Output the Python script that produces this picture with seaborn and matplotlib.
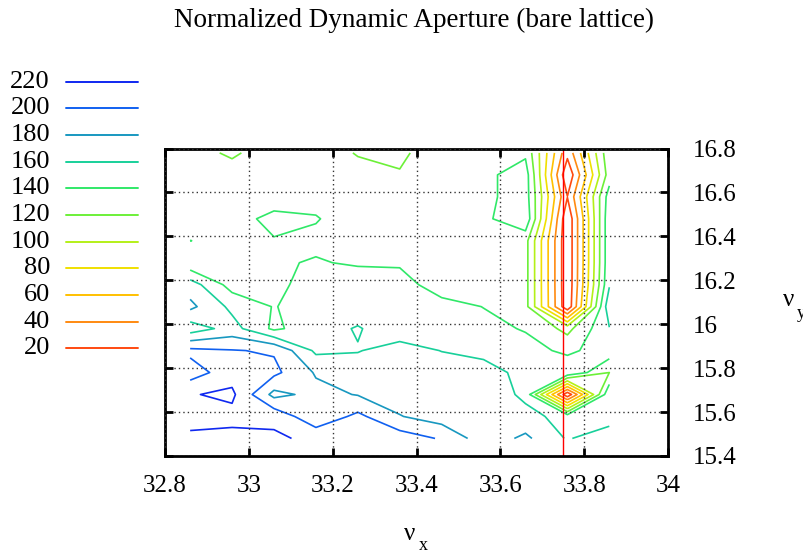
import numpy as np
import matplotlib
matplotlib.use("Agg")
import matplotlib.pyplot as plt
import seaborn as sns
from matplotlib.lines import Line2D

# ---------------- data ----------------
nu_x = [32.86, 32.96, 33.06, 33.16, 33.26, 33.36, 33.46, 33.56, 33.66, 33.76, 33.86]
nu_y = [15.48, 15.58, 15.68, 15.78, 15.88, 15.98, 16.08, 16.18, 16.28, 16.38,
        16.48, 16.58, 16.68, 16.78]

# normalized dynamic aperture, one list per nu_y row (bottom to top)
da_1548 = [222.8, 226, 223.6, 215, 214, 210.7, 198, 169, 184, 158, 175]
da_1558 = [215, 214, 214.6, 185, 205, 181, 170, 168, 167, 152, 148]
da_1568 = [218.7, 224, 174, 186, 179, 170, 168, 175, 155, 5, 157]
da_1578 = [190, 211.5, 205, 178, 170, 168, 170, 172, 151, 158, 120]
da_1588 = [205, 201, 198, 156, 159, 168, 159.5, 151.7, 148.6, 135, 152]
da_1598 = [149, 168, 136, 152, 161.5, 148.5, 150, 146.7, 138.2, 114, 159]
da_1608 = [185, 155, 139, 150, 150, 150, 148.5, 139.5, 127, 4, 175]
da_1618 = [170, 131.6, 134, 150, 150, 150, 127.8, 130, 127, 3, 158]
da_1628 = [125, 130, 138, 141.3, 138, 137, 130, 130, 127, 3, 155]
da_1638 = [140.3, 132, 138.9, 136.5, 132, 130, 128, 130, 127, 3, 155]
da_1648 = [130, 133, 145, 141, 132, 130, 130, 135.5, 155.8, 3, 155]
da_1658 = [130, 132, 131, 135, 130, 128, 130, 135, 150, 20.5, 150]
da_1668 = [131, 131, 133, 132, 130, 122.2, 128, 135, 150, 3, 130]
da_1678 = [129.5, 116, 134, 135, 118, 114, 138, 136, 136.3, 26, 135]

levels = [20, 40, 60, 80, 100, 120, 140, 160, 180, 200, 220]
level_colors = ["#ff4a10", "#ff8a10", "#ffc000", "#f0e000", "#b4f018", "#6cf038",
                "#30e868", "#18d09a", "#1898c0", "#1060f0", "#0f28f0"]

resonance_x = [33.75, 33.75]
resonance_y = [15.4, 16.8]

x_ticks = [32.8, 33.0, 33.2, 33.4, 33.6, 33.8, 34.0]
x_tick_labels = ["32.8", "33", "33.2", "33.4", "33.6", "33.8", "34"]
y_ticks = [15.4, 15.6, 15.8, 16.0, 16.2, 16.4, 16.6, 16.8]
y_tick_labels = ["15.4", "15.6", "15.8", "16", "16.2", "16.4", "16.6", "16.8"]

# ---------------- style ----------------
sns.set_theme(style="white")
plt.rcParams["font.family"] = ["Liberation Serif", "DejaVu Serif"]
plt.rcParams["text.color"] = "black"
FS = 18

W, H = 804, 552
fig = plt.figure(figsize=(W / 100, H / 100), dpi=100)
ax_l, ax_r, ax_t, ax_b = 165, 668, 148.5, 456
ax = fig.add_axes([ax_l / W, 1 - ax_b / H, (ax_r - ax_l) / W, (ax_b - ax_t) / H])

Z = np.array([da_1548, da_1558, da_1568, da_1578, da_1588, da_1598, da_1608,
              da_1618, da_1628, da_1638, da_1648, da_1658, da_1668, da_1678])

ax.contour(nu_x, nu_y, Z, levels=levels, colors=level_colors, linewidths=1.2)

sns.lineplot(x=resonance_x, y=resonance_y, estimator=None, sort=False,
             color="#ff0000", linewidth=1.0, ax=ax, legend=False)

ax.set_xlim(32.8, 34.0)
ax.set_ylim(15.4, 16.8)
ax.set_xticks(x_ticks)
ax.set_xticklabels(x_tick_labels)
ax.set_yticks(y_ticks)
ax.set_yticklabels(y_tick_labels)
ax.set_xlabel("")
ax.set_ylabel("")

ax.grid(True, color="#333333", linestyle=(0, (1.0, 2.2)), linewidth=1.0)
ax.set_axisbelow(False)
for s in ax.spines.values():
    s.set_visible(True)
    s.set_linewidth(2.0)
    s.set_color("black")

ax.tick_params(axis="both", direction="in", length=6, width=2.0, colors="black",
               top=True, bottom=True, left=True, right=True,
               labelleft=False, labelright=True, labelbottom=True, labeltop=False,
               labelsize=FS)
ax.tick_params(axis="x", pad=14)
ax.tick_params(axis="y", pad=18)
for lab in ax.get_yticklabels():
    lab.set_horizontalalignment("left")

# title and axis labels
fig.text(414 / W, 1 - 20 / H, "Normalized Dynamic Aperture (bare lattice)",
         ha="center", va="center", fontsize=19.5, color="black")
fig.text(410 / W, 1 - 534 / H, "ν", ha="center", va="center", fontsize=FS, color="black")
fig.text(423 / W, 1 - 545 / H, "x", ha="center", va="center", fontsize=13, color="black")
fig.text(789 / W, 1 - 300 / H, "ν", ha="center", va="center", fontsize=FS, color="black")
fig.text(801 / W, 1 - 313 / H, "y", ha="center", va="center", fontsize=13, color="black")

# contour key (levels listed high to low)
for i, (lev, col) in enumerate(zip(levels[::-1], level_colors[::-1])):
    ypx = 81.7 + i * 26.66
    yf = 1 - ypx / H
    fig.text(50 / W, yf, str(lev), ha="right", va="center", fontsize=19, color="black")
    fig.add_artist(Line2D([66 / W, 138 / W], [yf, yf], transform=fig.transFigure,
                          color=col, linewidth=1.4))

fig.savefig("out.png", dpi=100)
